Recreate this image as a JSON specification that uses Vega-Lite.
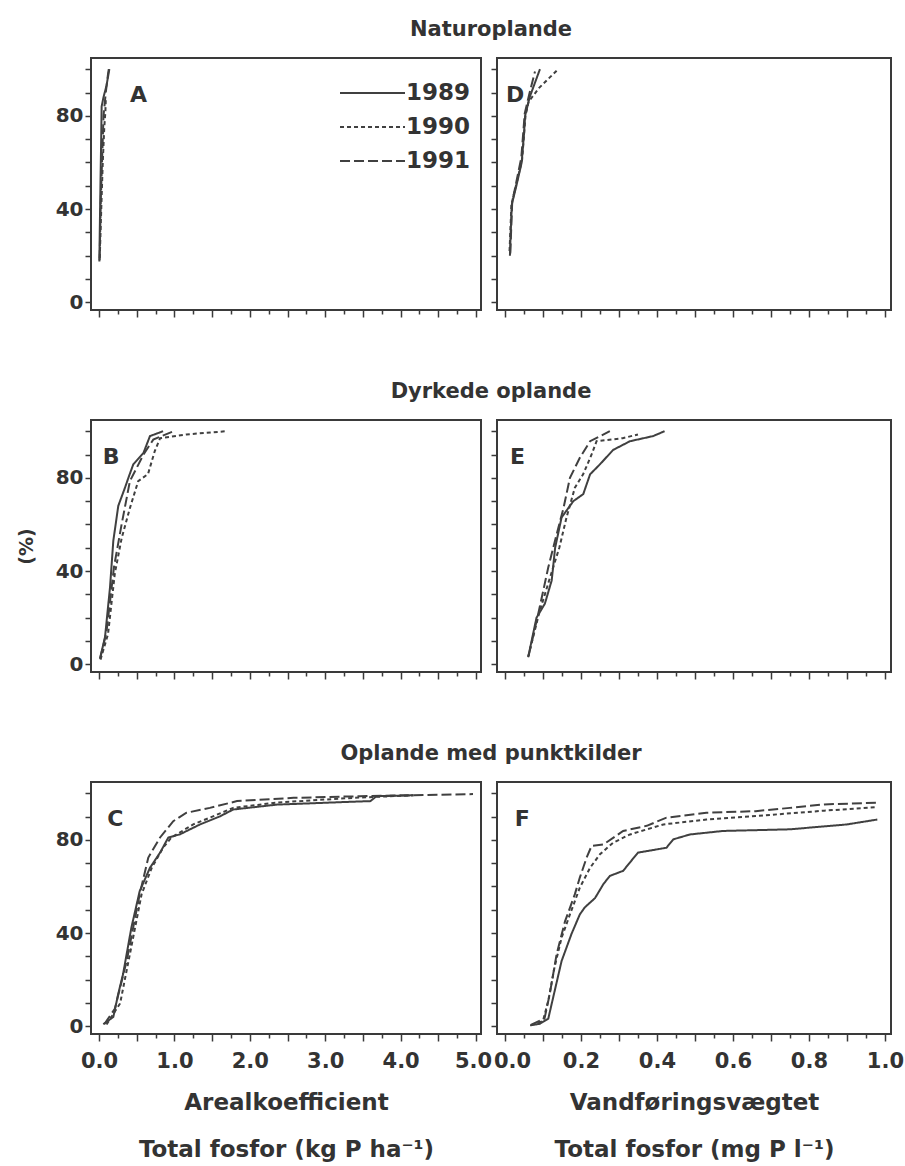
{
  "$schema": "https://vega.github.io/schema/vega-lite/v6.json",
  "padding": {"left": 16, "top": 18, "right": 0, "bottom": 0},
  "background": "white",
  "config": {
    "font": "DejaVu Sans",
    "view": {"stroke": "#3a3a3a", "strokeWidth": 2},
    "axis": {
      "domain": false, "grid": false, "tickCount": 60,
      "tickColor": "#3a3a3a", "tickWidth": 1.5,
      "labelColor": "#333333", "labelFont": "DejaVu Sans", "labelFontWeight": "bold",
      "titleColor": "#333333", "titleFont": "DejaVu Sans", "titleFontWeight": "bold",
      "labelFlush": false, "labelOverlap": false
    },
    "line": {"color": "#404040", "strokeWidth": 2},
    "title": {"font": "DejaVu Sans", "fontWeight": "bold", "fontSize": 21, "color": "#333333", "anchor": "middle", "frame": "group", "baseline": "alphabetic", "offset": 18, "dx": 205}
  },
  "datasets": {
    "curves": [
      {"p":"A","year":"1989","x":0.005,"y":17.5},{"p":"A","year":"1989","x":0.01,"y":30},{"p":"A","year":"1989","x":0.02,"y":52},{"p":"A","year":"1989","x":0.03,"y":72},{"p":"A","year":"1989","x":0.035,"y":84},{"p":"A","year":"1989","x":0.06,"y":88},{"p":"A","year":"1989","x":0.1,"y":93},{"p":"A","year":"1989","x":0.137,"y":100},
      {"p":"A","year":"1990","x":0.01,"y":19},{"p":"A","year":"1990","x":0.03,"y":40},{"p":"A","year":"1990","x":0.05,"y":60},{"p":"A","year":"1990","x":0.07,"y":75},{"p":"A","year":"1990","x":0.085,"y":82},{"p":"A","year":"1990","x":0.09,"y":87},
      {"p":"A","year":"1991","x":0.008,"y":18},{"p":"A","year":"1991","x":0.025,"y":45},{"p":"A","year":"1991","x":0.045,"y":65},{"p":"A","year":"1991","x":0.06,"y":80},{"p":"A","year":"1991","x":0.09,"y":90},{"p":"A","year":"1991","x":0.12,"y":98},{"p":"A","year":"1991","x":0.13,"y":100},

      {"p":"B","year":"1989","x":0.013,"y":2.4},{"p":"B","year":"1989","x":0.08,"y":11.7},{"p":"B","year":"1989","x":0.146,"y":33},{"p":"B","year":"1989","x":0.19,"y":53},{"p":"B","year":"1989","x":0.256,"y":68},{"p":"B","year":"1989","x":0.345,"y":75.8},{"p":"B","year":"1989","x":0.39,"y":80},{"p":"B","year":"1989","x":0.455,"y":85.8},{"p":"B","year":"1989","x":0.59,"y":90.7},{"p":"B","year":"1989","x":0.676,"y":97.9},{"p":"B","year":"1989","x":0.85,"y":100},
      {"p":"B","year":"1990","x":0.02,"y":2},{"p":"B","year":"1990","x":0.12,"y":13},{"p":"B","year":"1990","x":0.21,"y":39},{"p":"B","year":"1990","x":0.3,"y":54},{"p":"B","year":"1990","x":0.41,"y":67},{"p":"B","year":"1990","x":0.52,"y":78.6},{"p":"B","year":"1990","x":0.65,"y":81.6},{"p":"B","year":"1990","x":0.74,"y":91.5},{"p":"B","year":"1990","x":0.81,"y":97},{"p":"B","year":"1990","x":1.16,"y":98.6},{"p":"B","year":"1990","x":1.69,"y":100},
      {"p":"B","year":"1991","x":0.015,"y":2.5},{"p":"B","year":"1991","x":0.1,"y":14},{"p":"B","year":"1991","x":0.2,"y":42},{"p":"B","year":"1991","x":0.3,"y":60},{"p":"B","year":"1991","x":0.41,"y":78.6},{"p":"B","year":"1991","x":0.59,"y":90},{"p":"B","year":"1991","x":0.72,"y":96.4},{"p":"B","year":"1991","x":0.99,"y":100},

      {"p":"C","year":"1989","x":0.057,"y":0.9},{"p":"C","year":"1989","x":0.19,"y":4},{"p":"C","year":"1989","x":0.256,"y":14},{"p":"C","year":"1989","x":0.32,"y":22.5},{"p":"C","year":"1989","x":0.43,"y":42.4},{"p":"C","year":"1989","x":0.54,"y":58},{"p":"C","year":"1989","x":0.676,"y":68},{"p":"C","year":"1989","x":0.81,"y":74.5},{"p":"C","year":"1989","x":0.92,"y":81},{"p":"C","year":"1989","x":1.07,"y":82.3},{"p":"C","year":"1989","x":1.34,"y":86.6},{"p":"C","year":"1989","x":1.6,"y":90},{"p":"C","year":"1989","x":1.78,"y":93},{"p":"C","year":"1989","x":2.36,"y":95.1},{"p":"C","year":"1989","x":3.33,"y":96.3},{"p":"C","year":"1989","x":3.6,"y":96.6},{"p":"C","year":"1989","x":3.68,"y":98.7},{"p":"C","year":"1989","x":4.17,"y":99.1},
      {"p":"C","year":"1990","x":0.1,"y":0.8},{"p":"C","year":"1990","x":0.28,"y":9.8},{"p":"C","year":"1990","x":0.41,"y":31},{"p":"C","year":"1990","x":0.566,"y":56.8},{"p":"C","year":"1990","x":0.7,"y":68},{"p":"C","year":"1990","x":0.85,"y":76.6},{"p":"C","year":"1990","x":0.96,"y":81},{"p":"C","year":"1990","x":1.25,"y":86.6},{"p":"C","year":"1990","x":1.47,"y":89.5},{"p":"C","year":"1990","x":1.78,"y":93.7},{"p":"C","year":"1990","x":2.36,"y":96},{"p":"C","year":"1990","x":3.37,"y":98},{"p":"C","year":"1990","x":4.17,"y":99.1},
      {"p":"C","year":"1991","x":0.07,"y":0.9},{"p":"C","year":"1991","x":0.21,"y":7.5},{"p":"C","year":"1991","x":0.367,"y":28},{"p":"C","year":"1991","x":0.54,"y":56.7},{"p":"C","year":"1991","x":0.654,"y":72.4},{"p":"C","year":"1991","x":0.81,"y":81},{"p":"C","year":"1991","x":0.985,"y":88},{"p":"C","year":"1991","x":1.16,"y":91.6},{"p":"C","year":"1991","x":1.47,"y":93.7},{"p":"C","year":"1991","x":1.83,"y":96.6},{"p":"C","year":"1991","x":2.58,"y":98},{"p":"C","year":"1991","x":3.46,"y":98.7},{"p":"C","year":"1991","x":4.96,"y":99.6},

      {"p":"D","year":"1989","x":0.013,"y":20},{"p":"D","year":"1989","x":0.015,"y":30},{"p":"D","year":"1989","x":0.018,"y":42},{"p":"D","year":"1989","x":0.03,"y":50},{"p":"D","year":"1989","x":0.044,"y":60},{"p":"D","year":"1989","x":0.05,"y":72},{"p":"D","year":"1989","x":0.053,"y":80},{"p":"D","year":"1989","x":0.065,"y":88},{"p":"D","year":"1989","x":0.092,"y":100},
      {"p":"D","year":"1990","x":0.012,"y":22},{"p":"D","year":"1990","x":0.017,"y":42},{"p":"D","year":"1990","x":0.045,"y":61},{"p":"D","year":"1990","x":0.054,"y":80},{"p":"D","year":"1990","x":0.062,"y":86},{"p":"D","year":"1990","x":0.09,"y":92},{"p":"D","year":"1990","x":0.14,"y":100},
      {"p":"D","year":"1991","x":0.014,"y":21},{"p":"D","year":"1991","x":0.019,"y":43},{"p":"D","year":"1991","x":0.043,"y":62},{"p":"D","year":"1991","x":0.052,"y":81},{"p":"D","year":"1991","x":0.065,"y":90},{"p":"D","year":"1991","x":0.079,"y":99},

      {"p":"E","year":"1989","x":0.061,"y":3},{"p":"E","year":"1989","x":0.083,"y":20},{"p":"E","year":"1989","x":0.105,"y":26},{"p":"E","year":"1989","x":0.123,"y":36},{"p":"E","year":"1989","x":0.132,"y":50},{"p":"E","year":"1989","x":0.149,"y":63},{"p":"E","year":"1989","x":0.18,"y":70},{"p":"E","year":"1989","x":0.206,"y":73},{"p":"E","year":"1989","x":0.224,"y":81.5},{"p":"E","year":"1989","x":0.25,"y":85.8},{"p":"E","year":"1989","x":0.285,"y":92},{"p":"E","year":"1989","x":0.329,"y":95.7},{"p":"E","year":"1989","x":0.39,"y":97.9},{"p":"E","year":"1989","x":0.42,"y":100},
      {"p":"E","year":"1990","x":0.061,"y":3.2},{"p":"E","year":"1990","x":0.09,"y":22},{"p":"E","year":"1990","x":0.12,"y":38},{"p":"E","year":"1990","x":0.143,"y":50},{"p":"E","year":"1990","x":0.162,"y":63},{"p":"E","year":"1990","x":0.184,"y":75.8},{"p":"E","year":"1990","x":0.206,"y":81.6},{"p":"E","year":"1990","x":0.228,"y":90},{"p":"E","year":"1990","x":0.241,"y":95.7},{"p":"E","year":"1990","x":0.31,"y":97},{"p":"E","year":"1990","x":0.35,"y":98.6},
      {"p":"E","year":"1991","x":0.062,"y":3.5},{"p":"E","year":"1991","x":0.088,"y":22},{"p":"E","year":"1991","x":0.114,"y":41.6},{"p":"E","year":"1991","x":0.136,"y":55.8},{"p":"E","year":"1991","x":0.154,"y":67},{"p":"E","year":"1991","x":0.171,"y":80},{"p":"E","year":"1991","x":0.197,"y":88.6},{"p":"E","year":"1991","x":0.224,"y":95.7},{"p":"E","year":"1991","x":0.276,"y":100},

      {"p":"F","year":"1989","x":0.066,"y":0.4},{"p":"F","year":"1989","x":0.092,"y":1.1},{"p":"F","year":"1989","x":0.114,"y":3.3},{"p":"F","year":"1989","x":0.127,"y":12.5},{"p":"F","year":"1989","x":0.149,"y":28},{"p":"F","year":"1989","x":0.175,"y":39.6},{"p":"F","year":"1989","x":0.197,"y":48},{"p":"F","year":"1989","x":0.21,"y":51},{"p":"F","year":"1989","x":0.237,"y":55},{"p":"F","year":"1989","x":0.259,"y":61},{"p":"F","year":"1989","x":0.276,"y":64.5},{"p":"F","year":"1989","x":0.311,"y":66.7},{"p":"F","year":"1989","x":0.35,"y":74.5},{"p":"F","year":"1989","x":0.425,"y":76.6},{"p":"F","year":"1989","x":0.443,"y":80.2},{"p":"F","year":"1989","x":0.487,"y":82.3},{"p":"F","year":"1989","x":0.574,"y":83.8},{"p":"F","year":"1989","x":0.75,"y":84.5},{"p":"F","year":"1989","x":0.9,"y":86.6},{"p":"F","year":"1989","x":0.98,"y":88.7},
      {"p":"F","year":"1990","x":0.07,"y":0.5},{"p":"F","year":"1990","x":0.1,"y":2.3},{"p":"F","year":"1990","x":0.114,"y":11},{"p":"F","year":"1990","x":0.13,"y":25},{"p":"F","year":"1990","x":0.149,"y":38},{"p":"F","year":"1990","x":0.171,"y":48},{"p":"F","year":"1990","x":0.197,"y":59.5},{"p":"F","year":"1990","x":0.224,"y":68},{"p":"F","year":"1990","x":0.25,"y":73.8},{"p":"F","year":"1990","x":0.285,"y":78.8},{"p":"F","year":"1990","x":0.329,"y":82.3},{"p":"F","year":"1990","x":0.417,"y":86.6},{"p":"F","year":"1990","x":0.53,"y":88.7},{"p":"F","year":"1990","x":0.66,"y":90.2},{"p":"F","year":"1990","x":0.84,"y":92.5},{"p":"F","year":"1990","x":0.98,"y":94},
      {"p":"F","year":"1991","x":0.068,"y":0.6},{"p":"F","year":"1991","x":0.104,"y":3.3},{"p":"F","year":"1991","x":0.118,"y":14},{"p":"F","year":"1991","x":0.136,"y":31},{"p":"F","year":"1991","x":0.158,"y":45},{"p":"F","year":"1991","x":0.184,"y":56.7},{"p":"F","year":"1991","x":0.197,"y":63.8},{"p":"F","year":"1991","x":0.215,"y":72.4},{"p":"F","year":"1991","x":0.228,"y":77.4},{"p":"F","year":"1991","x":0.259,"y":78},{"p":"F","year":"1991","x":0.311,"y":83.8},{"p":"F","year":"1991","x":0.373,"y":86},{"p":"F","year":"1991","x":0.425,"y":89.5},{"p":"F","year":"1991","x":0.53,"y":91.6},{"p":"F","year":"1991","x":0.66,"y":92.3},{"p":"F","year":"1991","x":0.75,"y":93.7},{"p":"F","year":"1991","x":0.84,"y":95.2},{"p":"F","year":"1991","x":0.978,"y":95.9}
    ],
    "letters": [{"p":"A"},{"p":"B"},{"p":"C"},{"p":"D"},{"p":"E"},{"p":"F"}]
  },
  "spacing": 61,
  "resolve": {"scale": {"strokeDash": "independent"}, "legend": {"strokeDash": "independent"}},
  "vconcat": [
    {
      "spacing": 16, "bounds": "flush",
      "resolve": {"scale": {"strokeDash": "independent"}, "legend": {"strokeDash": "independent"}},
      "hconcat": [
        {
          "title": {"text": "Naturoplande"},
          "width": 390, "height": 252,
          "layer": [
            {
              "data": {"name": "curves"},
              "transform": [{"filter": "datum.p == 'A'"}],
              "mark": {"type": "line"},
              "encoding": {
                "x": {"field": "x", "type": "quantitative", "scale": {"domain": [-0.106, 5.066], "nice": false, "zero": false},
                      "axis": {"values": [0,0.25,0.5,0.75,1,1.25,1.5,1.75,2,2.25,2.5,2.75,3,3.25,3.5,3.75,4,4.25,4.5,4.75,5], "labels": false, "title": null,
                               "tickSize": {"condition": {"test": "round(datum.value*4) % 2 == 0", "value": 7}, "value": 4}}},
                "y": {"field": "y", "type": "quantitative", "scale": {"domain": [-3.3, 104.8], "nice": false, "zero": false},
                      "axis": {"values": [0,10,20,30,40,50,60,70,80,90,100], "tickSize": 6, "labelPadding": 2, "labelFontSize": 20, "labelExpr": "datum.value % 40 == 0 ? datum.label : ''", "title": null}},
                "strokeDash": {"field": "year", "type": "nominal",
                  "scale": {"domain": ["1989","1990","1991"], "range": [[1,0],[4,3],[10,4]]},
                  "legend": {"orient": "none", "legendX": 269.5, "legendY": 23, "title": null, "symbolType": "M-3,0H3", "symbolSize": 469, "symbolStrokeWidth": 2, "symbolStrokeColor": "#404040", "symbolFillColor": "transparent", "labelFontSize": 23, "labelFont": "DejaVu Sans", "labelFontWeight": "bold", "labelColor": "#333333", "labelOffset": 21.5, "rowPadding": 10}},
                "order": {"field": "y", "type": "quantitative"}
              }
            },
            {
              "data": {"name": "letters"},
              "transform": [{"filter": "datum.p == 'A'"}],
              "mark": {"type": "text", "align": "left", "baseline": "middle", "fontSize": 22, "fontWeight": "bold", "color": "#333333"},
              "encoding": {"x": {"datum": 0.41, "type": "quantitative"}, "y": {"datum": 89, "type": "quantitative"}, "text": {"field": "p"}}
            }
          ]
        },
        {
          "width": 394, "height": 252,
          "layer": [
            {
              "data": {"name": "curves"},
              "transform": [{"filter": "datum.p == 'D'"}],
              "mark": {"type": "line"},
              "encoding": {
                "x": {"field": "x", "type": "quantitative", "scale": {"domain": [-0.021, 1.016], "nice": false, "zero": false},
                      "axis": {"values": [0,0.05,0.1,0.15,0.2,0.25,0.3,0.35,0.4,0.45,0.5,0.55,0.6,0.65,0.7,0.75,0.8,0.85,0.9,0.95,1], "labels": false, "title": null,
                               "tickSize": {"condition": {"test": "round(datum.value*20) % 2 == 0", "value": 7}, "value": 4}}},
                "y": {"field": "y", "type": "quantitative", "scale": {"domain": [-3.3, 104.8], "nice": false, "zero": false},
                      "axis": {"values": [0,10,20,30,40,50,60,70,80,90,100], "tickSize": 6, "labels": false, "title": null}},
                "strokeDash": {"field": "year", "type": "nominal", "scale": {"domain": ["1989","1990","1991"], "range": [[1,0],[4,3],[10,4]]}, "legend": null},
                "order": {"field": "y", "type": "quantitative"}
              }
            },
            {
              "data": {"name": "letters"},
              "transform": [{"filter": "datum.p == 'D'"}],
              "mark": {"type": "text", "align": "left", "baseline": "middle", "fontSize": 22, "fontWeight": "bold", "color": "#333333"},
              "encoding": {"x": {"datum": 0.003, "type": "quantitative"}, "y": {"datum": 89, "type": "quantitative"}, "text": {"field": "p"}}
            }
          ]
        }
      ]
    },
    {
      "spacing": 16, "bounds": "flush",
      "resolve": {"scale": {"strokeDash": "independent"}, "legend": {"strokeDash": "independent"}},
      "hconcat": [
        {
          "title": {"text": "Dyrkede oplande"},
          "width": 390, "height": 252,
          "layer": [
            {
              "data": {"name": "curves"},
              "transform": [{"filter": "datum.p == 'B'"}],
              "mark": {"type": "line"},
              "encoding": {
                "x": {"field": "x", "type": "quantitative", "scale": {"domain": [-0.106, 5.066], "nice": false, "zero": false},
                      "axis": {"values": [0,0.25,0.5,0.75,1,1.25,1.5,1.75,2,2.25,2.5,2.75,3,3.25,3.5,3.75,4,4.25,4.5,4.75,5], "labels": false, "title": null,
                               "tickSize": {"condition": {"test": "round(datum.value*4) % 2 == 0", "value": 7}, "value": 4}}},
                "y": {"field": "y", "type": "quantitative", "scale": {"domain": [-3.3, 104.8], "nice": false, "zero": false},
                      "axis": {"values": [0,10,20,30,40,50,60,70,80,90,100], "tickSize": 6, "labelPadding": 2, "labelFontSize": 20, "labelExpr": "datum.value % 40 == 0 ? datum.label : ''", "title": "(%)", "titleFontSize": 19, "titlePadding": 19}},
                "strokeDash": {"field": "year", "type": "nominal", "scale": {"domain": ["1989","1990","1991"], "range": [[1,0],[4,3],[10,4]]}, "legend": null},
                "order": {"field": "y", "type": "quantitative"}
              }
            },
            {
              "data": {"name": "letters"},
              "transform": [{"filter": "datum.p == 'B'"}],
              "mark": {"type": "text", "align": "left", "baseline": "middle", "fontSize": 22, "fontWeight": "bold", "color": "#333333"},
              "encoding": {"x": {"datum": 0.05, "type": "quantitative"}, "y": {"datum": 89, "type": "quantitative"}, "text": {"field": "p"}}
            }
          ]
        },
        {
          "width": 394, "height": 252,
          "layer": [
            {
              "data": {"name": "curves"},
              "transform": [{"filter": "datum.p == 'E'"}],
              "mark": {"type": "line"},
              "encoding": {
                "x": {"field": "x", "type": "quantitative", "scale": {"domain": [-0.021, 1.016], "nice": false, "zero": false},
                      "axis": {"values": [0,0.05,0.1,0.15,0.2,0.25,0.3,0.35,0.4,0.45,0.5,0.55,0.6,0.65,0.7,0.75,0.8,0.85,0.9,0.95,1], "labels": false, "title": null,
                               "tickSize": {"condition": {"test": "round(datum.value*20) % 2 == 0", "value": 7}, "value": 4}}},
                "y": {"field": "y", "type": "quantitative", "scale": {"domain": [-3.3, 104.8], "nice": false, "zero": false},
                      "axis": {"values": [0,10,20,30,40,50,60,70,80,90,100], "tickSize": 6, "labels": false, "title": null}},
                "strokeDash": {"field": "year", "type": "nominal", "scale": {"domain": ["1989","1990","1991"], "range": [[1,0],[4,3],[10,4]]}, "legend": null},
                "order": {"field": "y", "type": "quantitative"}
              }
            },
            {
              "data": {"name": "letters"},
              "transform": [{"filter": "datum.p == 'E'"}],
              "mark": {"type": "text", "align": "left", "baseline": "middle", "fontSize": 22, "fontWeight": "bold", "color": "#333333"},
              "encoding": {"x": {"datum": 0.013, "type": "quantitative"}, "y": {"datum": 89, "type": "quantitative"}, "text": {"field": "p"}}
            }
          ]
        }
      ]
    },
    {
      "spacing": 16, "bounds": "flush",
      "resolve": {"scale": {"strokeDash": "independent"}, "legend": {"strokeDash": "independent"}},
      "hconcat": [
        {
          "title": {"text": "Oplande med punktkilder"},
          "width": 390, "height": 252,
          "layer": [
            {
              "data": {"name": "curves"},
              "transform": [{"filter": "datum.p == 'C'"}],
              "mark": {"type": "line"},
              "encoding": {
                "x": {"field": "x", "type": "quantitative", "scale": {"domain": [-0.106, 5.066], "nice": false, "zero": false},
                      "axis": {"values": [0,0.25,0.5,0.75,1,1.25,1.5,1.75,2,2.25,2.5,2.75,3,3.25,3.5,3.75,4,4.25,4.5,4.75,5],
                               "tickSize": {"condition": {"test": "round(datum.value*4) % 2 == 0", "value": 7}, "value": 4},
                               "labelExpr": "round(datum.value*4) % 4 == 0 ? format(datum.value, '.1f') : ''",
                               "labelOffset": {"condition": {"test": "datum.value == 5", "value": -3}, "value": 0},
                               "labelFontSize": 21, "labelPadding": 9,
                               "title": ["Arealkoefficient", "Total fosfor (kg P ha⁻¹)"], "titleFontSize": 23, "titleLineHeight": 47, "titlePadding": 20}},
                "y": {"field": "y", "type": "quantitative", "scale": {"domain": [-3.3, 104.8], "nice": false, "zero": false},
                      "axis": {"values": [0,10,20,30,40,50,60,70,80,90,100], "tickSize": 6, "labelPadding": 2, "labelFontSize": 20, "labelExpr": "datum.value % 40 == 0 ? datum.label : ''", "title": null}},
                "strokeDash": {"field": "year", "type": "nominal", "scale": {"domain": ["1989","1990","1991"], "range": [[1,0],[4,3],[10,4]]}, "legend": null},
                "order": {"field": "y", "type": "quantitative"}
              }
            },
            {
              "data": {"name": "letters"},
              "transform": [{"filter": "datum.p == 'C'"}],
              "mark": {"type": "text", "align": "left", "baseline": "middle", "fontSize": 22, "fontWeight": "bold", "color": "#333333"},
              "encoding": {"x": {"datum": 0.11, "type": "quantitative"}, "y": {"datum": 89, "type": "quantitative"}, "text": {"field": "p"}}
            }
          ]
        },
        {
          "width": 394, "height": 252,
          "layer": [
            {
              "data": {"name": "curves"},
              "transform": [{"filter": "datum.p == 'F'"}],
              "mark": {"type": "line"},
              "encoding": {
                "x": {"field": "x", "type": "quantitative", "scale": {"domain": [-0.021, 1.016], "nice": false, "zero": false},
                      "axis": {"values": [0,0.05,0.1,0.15,0.2,0.25,0.3,0.35,0.4,0.45,0.5,0.55,0.6,0.65,0.7,0.75,0.8,0.85,0.9,0.95,1],
                               "tickSize": {"condition": {"test": "round(datum.value*20) % 2 == 0", "value": 7}, "value": 4},
                               "labelExpr": "round(datum.value*20) % 4 == 0 ? format(datum.value, '.1f') : ''",
                               "labelOffset": {"condition": {"test": "datum.value == 0", "value": 7}, "value": 0},
                               "labelFontSize": 21, "labelPadding": 9,
                               "title": ["Vandføringsvægtet", "Total fosfor (mg P l⁻¹)"], "titleFontSize": 23, "titleLineHeight": 47, "titlePadding": 20}},
                "y": {"field": "y", "type": "quantitative", "scale": {"domain": [-3.3, 104.8], "nice": false, "zero": false},
                      "axis": {"values": [0,10,20,30,40,50,60,70,80,90,100], "tickSize": 6, "labels": false, "title": null}},
                "strokeDash": {"field": "year", "type": "nominal", "scale": {"domain": ["1989","1990","1991"], "range": [[1,0],[4,3],[10,4]]}, "legend": null},
                "order": {"field": "y", "type": "quantitative"}
              }
            },
            {
              "data": {"name": "letters"},
              "transform": [{"filter": "datum.p == 'F'"}],
              "mark": {"type": "text", "align": "left", "baseline": "middle", "fontSize": 22, "fontWeight": "bold", "color": "#333333"},
              "encoding": {"x": {"datum": 0.026, "type": "quantitative"}, "y": {"datum": 89, "type": "quantitative"}, "text": {"field": "p"}}
            }
          ]
        }
      ]
    }
  ]
}
